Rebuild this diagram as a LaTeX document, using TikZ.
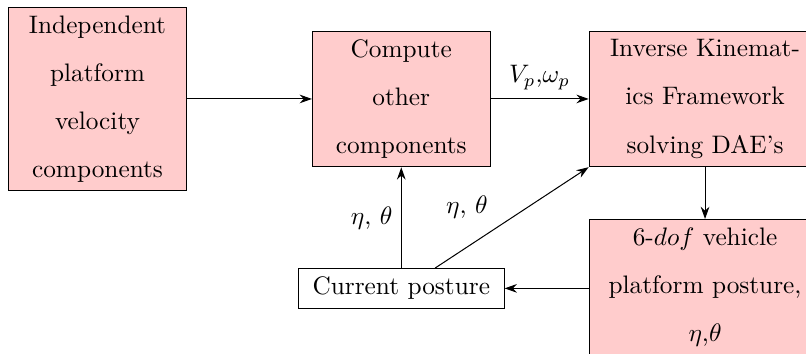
\documentclass[tikz,border=0pt]{standalone}
\usepackage{amsmath}
\usepackage{xcolor}
\usepackage{tikz}
\usetikzlibrary{arrows.meta,positioning}
\tikzset{
  box/.style={rectangle, draw, align=center, fill=red!20,
              font=\fontsize{10}{19}\selectfont, minimum width=2.47cm},
  wbox/.style={rectangle, draw, align=center, font=\normalsize, inner xsep=5.6pt},
  arr/.style={-{Stealth[length=1.7mm,width=1.2mm]}}
}
\begin{document}
\begin{tikzpicture}
  \useasboundingbox (0,0) rectangle (11.20,4.918);
  \node[box] (indep) at (1.355,3.543) {Independent\\platform\\velocity\\components};
  \node[box, right=1.737cm of indep] (comp) {Compute\\other\\components};
  \node[box, minimum width=3.22cm, right=1.362cm of comp] (ik) {Inverse Kinemat-\\ics Framework\\solving DAE's};
  \node[box, minimum width=3.22cm, below=0.72cm of ik] (dof) {6-$dof$ vehicle\\platform posture,\\$\eta$,$\theta$};
  \node[wbox, below=1.40cm of comp] (cur) {Current posture};
  \draw[arr] (indep) -- (comp);
  \draw[arr] (comp) -- node[above] {$V_p$,$\omega_p$} (ik);
  \draw[arr] (ik) -- (dof);
  \draw[arr] (dof.west |- cur.east) -- (cur.east);
  \draw[arr] (cur) -- node[left] {$\eta$, $\theta$} (comp);
  \draw[arr] ([xshift=0.47cm]cur.north) -- node[above left, pos=0.4] {$\eta$, $\theta$} (ik.south west);
\end{tikzpicture}
\end{document}
